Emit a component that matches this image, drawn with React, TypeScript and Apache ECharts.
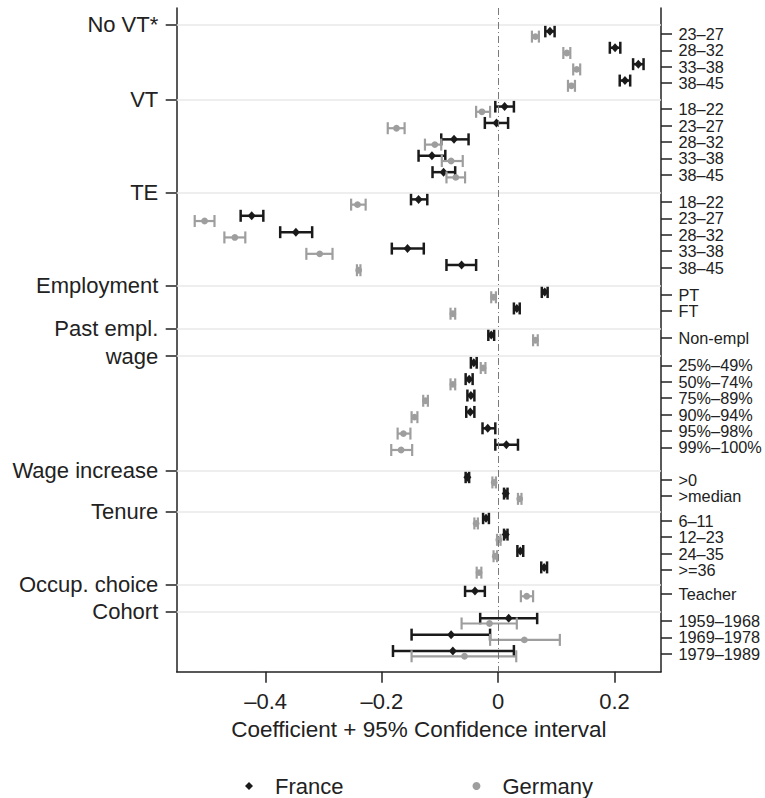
import React, { useEffect, useRef } from "react";
import * as echarts from "echarts";

// ---- Data ----
const groups = ["No VT*", "VT", "TE", "Employment", "Past empl.", "wage", "Wage increase", "Tenure", "Occup. choice", "Cohort"];
// row position (in row units from the top) of the first item of each group
const groupStart = [1.585, 6.17, 11.83, 17.48, 20.1, 21.79, 28.77, 31.27, 35.71, 37.37];
const itemLabels: string[][] = [
  ["23–27", "28–32", "33–38", "38–45"],
  ["18–22", "23–27", "28–32", "33–38", "38–45"],
  ["18–22", "23–27", "28–32", "33–38", "38–45"],
  ["PT", "FT"],
  ["Non-empl"],
  ["25%–49%", "50%–74%", "75%–89%", "90%–94%", "95%–98%", "99%–100%"],
  [">0", ">median"],
  ["6–11", "12–23", "24–35", ">=36"],
  ["Teacher"],
  ["1959–1968", "1969–1978", "1979–1989"],
];

const franceEst = [
  0.089, 0.201, 0.241, 0.218,
  0.011, -0.003, -0.076, -0.114, -0.094,
  -0.137, -0.424, -0.348, -0.156, -0.063,
  0.08, 0.032,
  -0.012,
  -0.042, -0.05, -0.047, -0.048, -0.018, 0.014,
  -0.053, 0.013,
  -0.021, 0.013, 0.038, 0.079,
  -0.04,
  0.018, -0.081, -0.078,
];
const franceLo = [
  0.081, 0.192, 0.232, 0.209,
  -0.005, -0.023, -0.098, -0.137, -0.113,
  -0.15, -0.443, -0.375, -0.183, -0.089,
  0.075, 0.027,
  -0.017,
  -0.047, -0.056, -0.053, -0.055, -0.027, -0.005,
  -0.056, 0.01,
  -0.026, 0.01, 0.033, 0.074,
  -0.057,
  -0.031, -0.149, -0.181,
];
const franceHi = [
  0.097, 0.21, 0.25, 0.227,
  0.027, 0.017, -0.051, -0.091, -0.074,
  -0.122, -0.404, -0.32, -0.128, -0.038,
  0.085, 0.037,
  -0.007,
  -0.037, -0.044, -0.041, -0.041, -0.005, 0.034,
  -0.05, 0.016,
  -0.016, 0.016, 0.043, 0.084,
  -0.023,
  0.067, -0.014, 0.027,
];
const germanyEst = [
  0.064, 0.118, 0.135, 0.126,
  -0.028, -0.175, -0.109, -0.081, -0.073,
  -0.242, -0.505, -0.453, -0.307, -0.24,
  -0.008, -0.078,
  0.064,
  -0.026, -0.078, -0.125, -0.144, -0.163, -0.167,
  -0.007, 0.037,
  -0.038, 0.001, -0.005, -0.033,
  0.049,
  -0.015, 0.045, -0.058,
];
const germanyLo = [
  0.058, 0.112, 0.129, 0.12,
  -0.038, -0.19, -0.126, -0.097, -0.089,
  -0.253, -0.522, -0.471, -0.33, -0.243,
  -0.012, -0.082,
  0.06,
  -0.03, -0.082, -0.129, -0.149, -0.173, -0.184,
  -0.01, 0.034,
  -0.041, -0.002, -0.008, -0.037,
  0.039,
  -0.063, -0.014, -0.149,
];
const germanyHi = [
  0.07, 0.124, 0.141, 0.132,
  -0.014, -0.161, -0.098, -0.061, -0.057,
  -0.228, -0.488, -0.435, -0.285, -0.237,
  -0.004, -0.074,
  0.068,
  -0.022, -0.074, -0.121, -0.139, -0.151, -0.148,
  -0.004, 0.04,
  -0.035, 0.004, -0.002, -0.029,
  0.06,
  0.032, 0.106, 0.031,
];
const xTicks = [-0.4, -0.2, 0, 0.2];

// ---- derived ----
const HEADER_OFFSET = 0.57;
const headerPos = groupStart.map((s) => s - HEADER_OFFSET);
const itemPos: number[] = [];
const itemNames: string[] = [];
itemLabels.forEach((arr, g) => arr.forEach((lab, i) => { itemPos.push(groupStart[g] + i); itemNames.push(lab); }));

const FONT = "'Liberation Sans', Arial, Helvetica, sans-serif";
const FR = "#1a1a1a";
const DE = "#9e9e9e";

function findLabel(v: number, pos: number[], names: string[]) {
  let best = -1, bd = 1e9;
  pos.forEach((p, i) => { const d = Math.abs(p - v); if (d < bd) { bd = d; best = i; } });
  return best >= 0 && bd < 1e-4 ? names[best] : "";
}

function makeRender(color: string, off: number, lw: number, capH: number, diamond: boolean) {
  return (params: any, api: any) => {
    const y = api.value(1) + off;
    const p = api.coord([api.value(0), y]);
    const l = api.coord([api.value(2), y]);
    const h = api.coord([api.value(3), y]);
    const st = { stroke: color, lineWidth: lw };
    const marker = diamond
      ? { type: "polygon", shape: { points: [[p[0], p[1] - 4.5], [p[0] + 4, p[1]], [p[0], p[1] + 4.5], [p[0] - 4, p[1]]] }, style: { fill: color } }
      : { type: "circle", shape: { cx: p[0], cy: p[1], r: 3.4 }, style: { fill: color } };
    return {
      type: "group",
      children: [
        { type: "line", shape: { x1: l[0], y1: l[1], x2: h[0], y2: h[1] }, style: st },
        { type: "line", shape: { x1: l[0], y1: l[1] - capH / 2, x2: l[0], y2: l[1] + capH / 2 }, style: st },
        { type: "line", shape: { x1: h[0], y1: h[1] - capH / 2, x2: h[0], y2: h[1] + capH / 2 }, style: st },
        marker,
      ],
    };
  };
}

export default function App() {
  const ref = useRef<HTMLDivElement>(null);
  useEffect(() => {
    document.body.style.margin = "0";
    const chart = echarts.init(ref.current!, undefined, { renderer: "svg" });
    const frData = franceEst.map((e, i) => [e, itemPos[i], franceLo[i], franceHi[i]]);
    const deData = germanyEst.map((e, i) => [e, itemPos[i], germanyLo[i], germanyHi[i]]);
    const yMax = 40.47;
    chart.setOption({
      animation: false,
      textStyle: { fontFamily: FONT },
      grid: { left: 176.7, right: 104, top: 8, bottom: 126.3, containLabel: false, outerBoundsMode: "none" },
      xAxis: {
        type: "value",
        position: "bottom",
        min: -0.553,
        max: 0.28,
        axisLine: { show: true, onZero: false, lineStyle: { color: "#222", width: 1.5 } },
        axisTick: { show: true, length: 11, customValues: xTicks, lineStyle: { color: "#222", width: 1.5 } },
        axisLabel: {
          customValues: xTicks,
          margin: 19,
          fontSize: 22,
          color: "#222",
          fontFamily: FONT,
          formatter: (v: number) => (Math.abs(v) < 1e-9 ? "0" : (v < 0 ? "–" : "") + Math.abs(v).toFixed(1)),
        },
        splitLine: { show: false },
        name: "Coefficient + 95% Confidence interval",
        nameLocation: "middle",
        nameGap: 46,
        nameTextStyle: { fontSize: 22.5, color: "#222", fontFamily: FONT },
      },
      yAxis: [
        {
          type: "value",
          position: "left",
          inverse: true,
          min: 0,
          max: yMax,
          axisLine: { show: true, onZero: false, lineStyle: { color: "#222", width: 1.5 } },
          axisTick: { show: true, length: 11, customValues: headerPos, lineStyle: { color: "#222", width: 1.5 } },
          axisLabel: {
            customValues: headerPos,
            showMinLabel: true,
            showMaxLabel: true,
            hideOverlap: false,
            margin: 18.4,
            fontSize: 22,
            color: "#222",
            fontFamily: FONT,
            formatter: (v: number) => findLabel(v, headerPos, groups),
          },
          splitLine: { show: false },
        },
        {
          type: "value",
          position: "right",
          inverse: true,
          min: 0,
          max: yMax,
          axisLine: { show: true, onZero: false, lineStyle: { color: "#222", width: 1.5 } },
          axisTick: { show: true, length: 11, customValues: itemPos, lineStyle: { color: "#222", width: 1.5 } },
          axisLabel: {
            customValues: itemPos,
            showMinLabel: true,
            showMaxLabel: true,
            hideOverlap: false,
            margin: 17.5,
            fontSize: 16.3,
            lineHeight: 16,
            color: "#222",
            fontFamily: FONT,
            formatter: (v: number) => findLabel(v, itemPos, itemNames),
          },
          splitLine: { show: false },
        },
      ],
      legend: {
        left: 245,
        top: 775,
        padding: 0,
        itemWidth: 8,
        itemHeight: 8,
        itemGap: 129,
        textStyle: { fontSize: 22, color: "#222", fontFamily: FONT, padding: [0, 0, 0, 17] },
        data: [
          { name: "France", icon: "diamond", itemStyle: { color: FR } },
          { name: "Germany", icon: "circle", itemStyle: { color: DE } },
        ],
      },
      series: [
        {
          type: "scatter",
          name: "ref",
          data: [],
          silent: true,
          z: 1,
          markLine: {
            silent: true,
            symbol: "none",
            label: { show: false },
            data: [
              ...headerPos.map((v) => ({ yAxis: v, lineStyle: { color: "#e8e8e8", width: 1.5, type: "solid" } })),
              { xAxis: 0, lineStyle: { color: "#7a7a7a", width: 1, type: [7, 3, 1, 3] } },
            ],
          },
        },
        {
          type: "custom",
          name: "France",
          itemStyle: { color: FR },
          renderItem: makeRender(FR, -0.16, 2.5, 12, true),
          encode: { x: 0, y: 1 },
          data: frData,
          z: 3,
        },
        {
          type: "custom",
          name: "Germany",
          itemStyle: { color: DE },
          renderItem: makeRender(DE, 0.16, 2.2, 12, false),
          encode: { x: 0, y: 1 },
          data: deData,
          z: 4,
        },
      ],
    });
    return () => chart.dispose();
  }, []);
  return <div ref={ref} style={{ width: 765, height: 798 }} />;
}
